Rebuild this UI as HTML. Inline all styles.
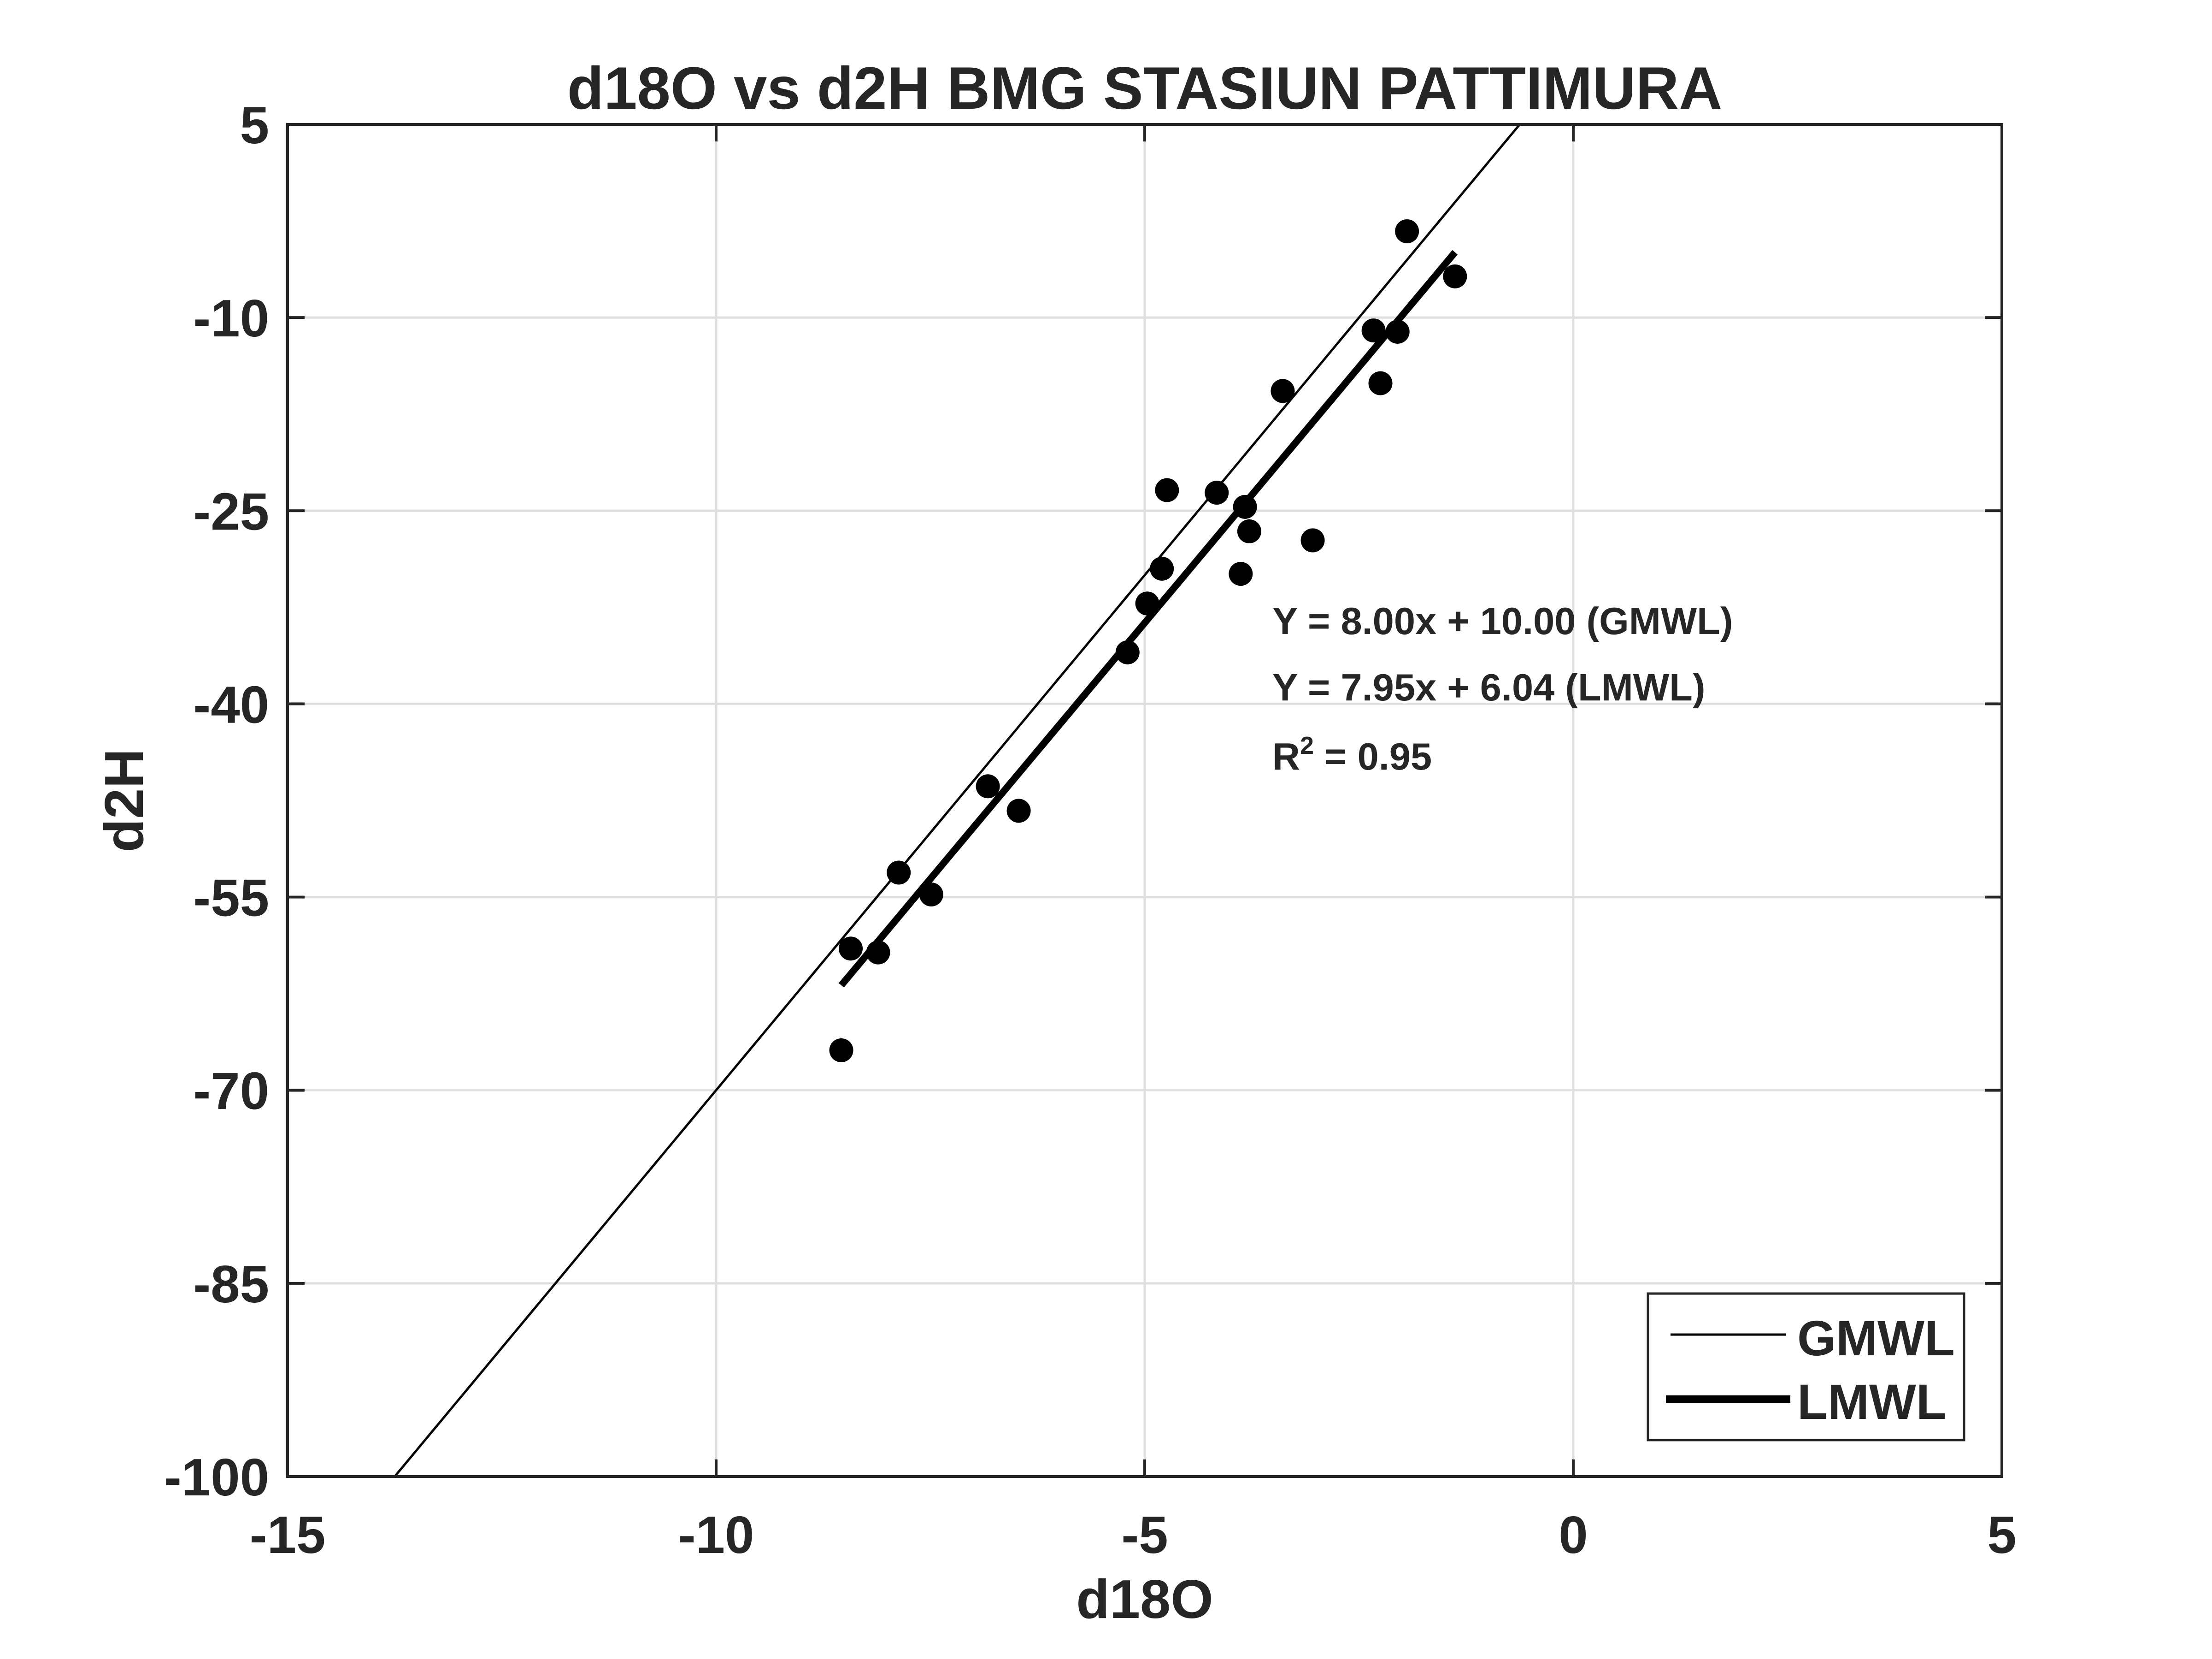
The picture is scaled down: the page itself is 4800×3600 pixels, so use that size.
<!DOCTYPE html>
<html><head><meta charset="utf-8"><style>
html,body{margin:0;padding:0;background:#fff}
svg{display:block}
text{font-family:"Liberation Sans",Arial,sans-serif;font-weight:bold;fill:#262626}
</style></head><body>
<svg id="chart" width="4800" height="3600" viewBox="0 0 4800 3600" xmlns="http://www.w3.org/2000/svg">
<rect width="4800" height="3600" fill="#fff"/>
<g id="grid"></g>
<g id="lines"></g>
<g id="points"></g>
<rect x="624" y="270" width="3720" height="2934" fill="none" stroke="#262626" stroke-width="6"/>
<g id="ticks"></g>
<text x="2484" y="236" font-size="130" text-anchor="middle" fill="#000">d18O vs d2H BMG STASIUN PATTIMURA</text>
<text x="2484" y="3511" font-size="119" text-anchor="middle">d18O</text>
<text x="0" y="0" font-size="119" text-anchor="middle" transform="translate(310,1737) rotate(-90)">d2H</text>
<text x="2761" y="1376" font-size="83" fill="#000">Y = 8.00x + 10.00 (GMWL)</text>
<text x="2761" y="1520" font-size="83" fill="#000">Y = 7.95x + 6.04 (LMWL)</text>
<text x="2761" y="1670" font-size="83" fill="#000">R<tspan dy="-34" font-size="54">2</tspan><tspan dy="34"> = 0.95</tspan></text>
<g>
<rect x="3576" y="2807" width="686" height="318" fill="#fff" stroke="#262626" stroke-width="5"/>
<line x1="3625" y1="2896" x2="3876" y2="2896" stroke="#000" stroke-width="5"/>
<text x="3900" y="2941" font-size="108" fill="#000">GMWL</text>
<line x1="3615" y1="3036" x2="3885" y2="3036" stroke="#000" stroke-width="16"/>
<text x="3900" y="3079" font-size="108" fill="#000">LMWL</text>
</g>
</svg>
<script>
const xTicks=[-15,-10,-5,0,5];
const yTicks=[5,-10,-25,-40,-55,-70,-85,-100];
const d18O=[-1.94,-1.38,-2.33,-2.05,-2.25,-3.39,-4.74,-4.16,-3.83,-3.78,-3.04,-4.80,-3.88,-4.97,-5.20,-6.83,-6.47,-7.87,-7.49,-8.43,-8.11,-8.54];
const d2H=[-3.3,-6.8,-11.0,-11.1,-15.1,-15.7,-23.4,-23.6,-24.7,-26.6,-27.3,-29.5,-29.9,-32.2,-36.0,-46.4,-48.3,-53.1,-54.8,-59.0,-59.3,-66.9];
const gmwl=[8.00,10.00];
const lmwl=[7.95,6.04];
const lmwlRange=[-8.54,-1.38];

const L=624,R=4344,T=270,B=3204;
const X=v=>L+(v+15)/20*(R-L);
const Y=v=>B-(v+100)/105*(B-T);
const NS="http://www.w3.org/2000/svg";
function mk(tag,attrs,parent){const e=document.createElementNS(NS,tag);for(const k in attrs)e.setAttribute(k,attrs[k]);parent.appendChild(e);return e;}
const grid=document.getElementById('grid'),ticks=document.getElementById('ticks'),lines=document.getElementById('lines'),pts=document.getElementById('points');
xTicks.forEach(v=>{
  const x=X(v);
  if(v>-15&&v<5){const g=mk('line',{x1:x,y1:T,x2:x,y2:B,stroke:'#dfdfdf','stroke-width':5},grid);
  
  }
  const t1=mk('line',{x1:x,y1:B,x2:x,y2:B-37,stroke:'#262626','stroke-width':6},ticks);
  
  
  const t2=mk('line',{x1:x,y1:T,x2:x,y2:T+37,stroke:'#262626','stroke-width':6},ticks);
  
  
  const tx=mk('text',{x:x,y:3370,'font-size':114,'text-anchor':'middle'},ticks);
  tx.textContent=v;
  
  
});
yTicks.forEach(v=>{
  const y=Y(v);
  if(v<5&&v>-100){const g=mk('line',{x1:L,y1:y,x2:R,y2:y,stroke:'#dfdfdf','stroke-width':5},grid);
  
  }
  const t1=mk('line',{x1:L,y1:y,x2:L+37,y2:y,stroke:'#262626','stroke-width':6},ticks);
  
  
  const t2=mk('line',{x1:R,y1:y,x2:R-37,y2:y,stroke:'#262626','stroke-width':6},ticks);
  
  
  const tx=mk('text',{x:584,y:y+41,'font-size':114,'text-anchor':'end'},ticks);
  tx.textContent=v;
  
  
});
const gx1=(-100-gmwl[1])/gmwl[0], gx2=(5-gmwl[1])/gmwl[0];
const gl=mk('line',{x1:X(gx1),y1:Y(-100),x2:X(gx2),y2:Y(5),stroke:'#000','stroke-width':5},lines);


const ll=mk('line',{x1:X(lmwlRange[0]),y1:Y(lmwl[0]*lmwlRange[0]+lmwl[1]),x2:X(lmwlRange[1]),y2:Y(lmwl[0]*lmwlRange[1]+lmwl[1]),stroke:'#000','stroke-width':15},lines);


d18O.forEach((v,i)=>{
  const c=mk('circle',{cx:X(v),cy:Y(d2H[i]),r:26,fill:'#000'},pts);
  
  
});
</script>
</body></html>
